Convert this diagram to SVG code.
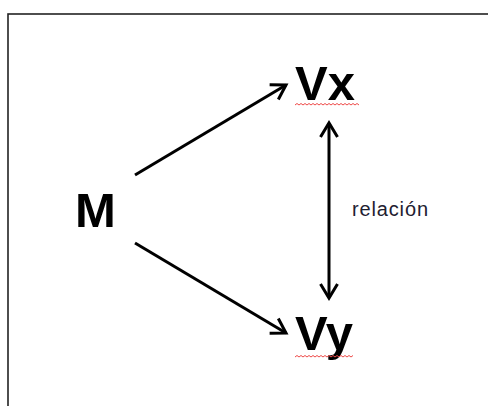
<svg xmlns="http://www.w3.org/2000/svg" width="488" height="406" viewBox="0 0 488 406">
<style>
.big{font-family:"Liberation Sans",Arial,sans-serif;font-weight:bold;font-size:49px;fill:#000}
.lbl{font-family:"Liberation Sans",Arial,sans-serif;font-size:20px;fill:#1e2030}
.conn{stroke:#000;stroke-width:3;fill:none}
.sq{stroke:#ee4a48;stroke-width:1;fill:none}
</style>
<defs>
<marker id="ah" markerUnits="userSpaceOnUse" viewBox="-17 -10 20 20" markerWidth="20" markerHeight="20" refX="0" refY="0" orient="auto-start-reverse" overflow="visible">
<path d="M-14,-8.5 L0,0 L-14,8.5" fill="none" stroke="#000" stroke-width="3" stroke-linejoin="miter"/>
</marker>
</defs>
<rect x="8" y="14" width="500" height="420" fill="#fff" stroke="#222" stroke-width="1.6"/>
<g id="connectors">
<line class="conn" x1="135" y1="175" x2="286" y2="85" marker-end="url(#ah)"/>
<line class="conn" x1="135" y1="243" x2="286" y2="333" marker-end="url(#ah)"/>
<line class="conn" x1="329" y1="123" x2="329" y2="298" marker-start="url(#ah)" marker-end="url(#ah)"/>
<text class="lbl" x="352" y="216" textLength="76">relación</text>
</g>
<g id="M"><text class="big" x="75" y="227">M</text></g>
<g id="Vx"><text class="big" x="295" y="100">Vx</text>
<path class="sq" d="M295,105 l2,-1.5 l2,1.5 l2,-1.5 l2,1.5 l2,-1.5 l2,1.5 l2,-1.5 l2,1.5 l2,-1.5 l2,1.5 l2,-1.5 l2,1.5 l2,-1.5 l2,1.5 l2,-1.5 l2,1.5 l2,-1.5 l2,1.5 l2,-1.5 l2,1.5 l2,-1.5 l2,1.5 l2,-1.5 l2,1.5 l2,-1.5 l2,1.5 l2,-1.5 l2,1.5 l2,-1.5 l2,1.5 l2,-1.5 l2,1.5"/></g>
<g id="Vy"><text class="big" x="295" y="350">Vy</text>
<path class="sq" d="M295,357 l2,-1.5 l2,1.5 l2,-1.5 l2,1.5 l2,-1.5 l2,1.5 l2,-1.5 l2,1.5 l2,-1.5 l2,1.5 l2,-1.5 l2,1.5 l2,-1.5 l2,1.5 l2,-1.5 l2,1.5 l2,-1.5 l2,1.5 l2,-1.5 l2,1.5 l2,-1.5 l2,1.5 l2,-1.5 l2,1.5 l2,-1.5 l2,1.5 l2,-1.5 l2,1.5 l2,-1.5"/></g>
</svg>
